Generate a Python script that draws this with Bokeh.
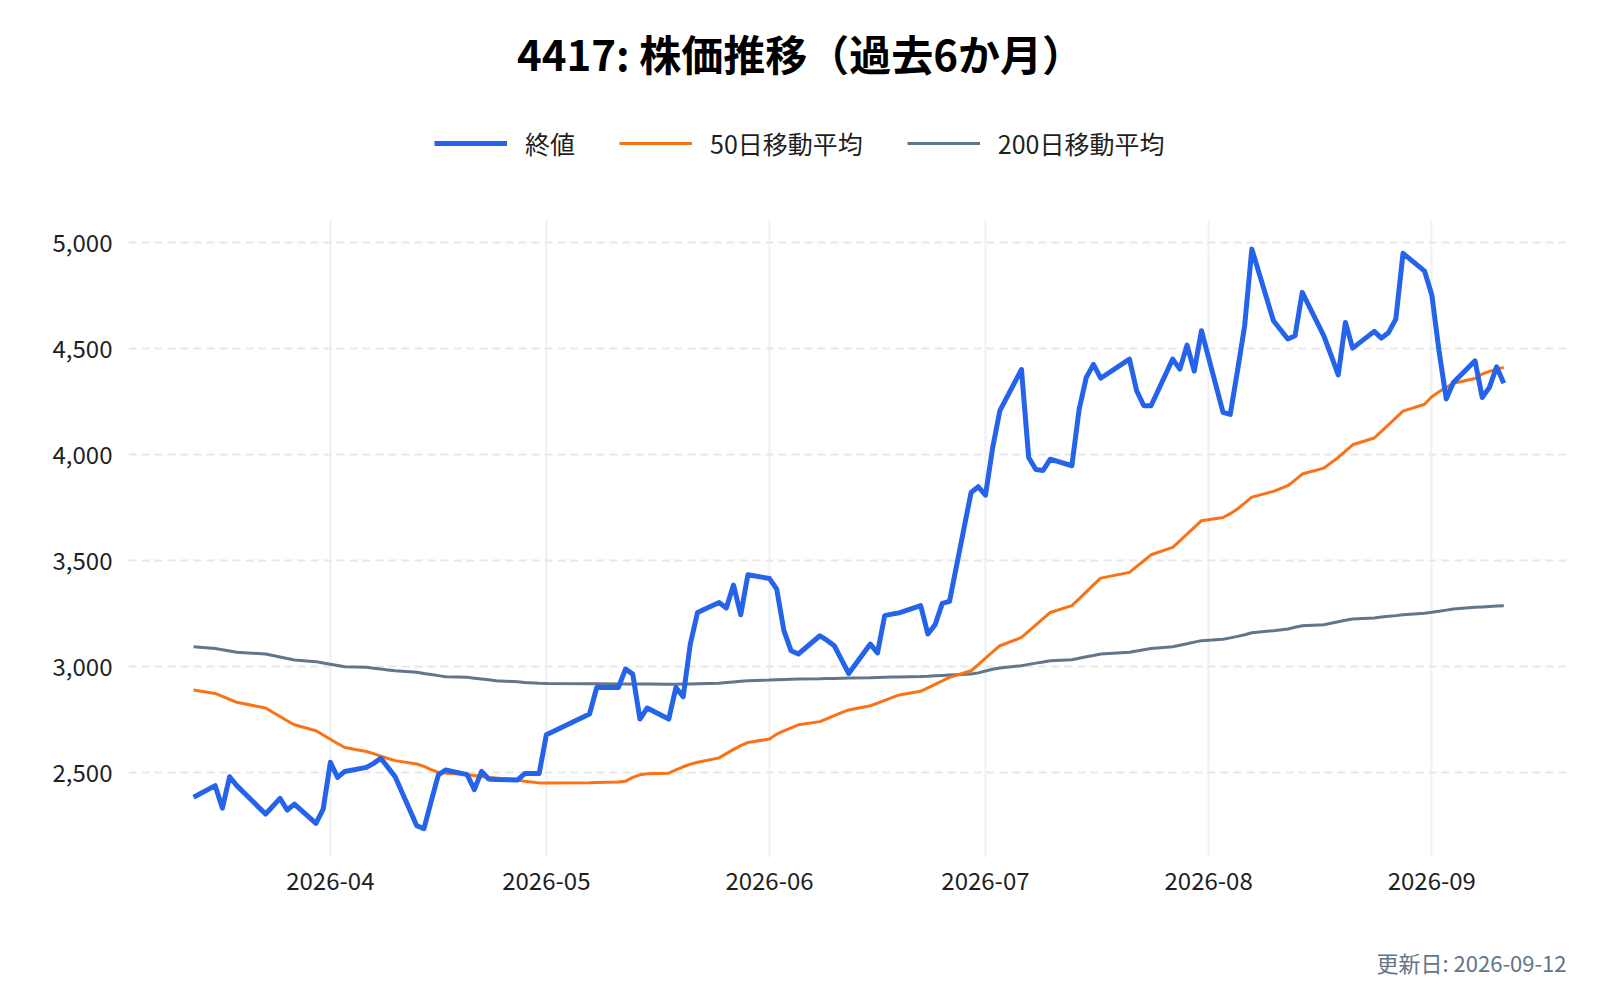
from datetime import datetime
import pandas as pd
from bokeh.plotting import figure
from bokeh.layouts import column
from bokeh.models import (Range1d, FixedTicker, NumeralTickFormatter, DatetimeTickFormatter,
                          MonthsTicker, Legend, LegendItem, Label, ColumnDataSource)
from bokeh.embed import file_html
from bokeh.resources import INLINE

# ---------------- data ----------------
dates = [
    "2026-03-13", "2026-03-16", "2026-03-17", "2026-03-18", "2026-03-19", "2026-03-23", "2026-03-24",
    "2026-03-25", "2026-03-26", "2026-03-27", "2026-03-30", "2026-03-31",
    "2026-04-01", "2026-04-02", "2026-04-03", "2026-04-06", "2026-04-07", "2026-04-08", "2026-04-09",
    "2026-04-10", "2026-04-13", "2026-04-14", "2026-04-15", "2026-04-16", "2026-04-17", "2026-04-20",
    "2026-04-21", "2026-04-22", "2026-04-23", "2026-04-24", "2026-04-27", "2026-04-28", "2026-04-30",
    "2026-05-01", "2026-05-07", "2026-05-08", "2026-05-11", "2026-05-12", "2026-05-13", "2026-05-14",
    "2026-05-15", "2026-05-18", "2026-05-19", "2026-05-20", "2026-05-21", "2026-05-22", "2026-05-25",
    "2026-05-26", "2026-05-27", "2026-05-28", "2026-05-29",
    "2026-06-01", "2026-06-02", "2026-06-03", "2026-06-04", "2026-06-05", "2026-06-08", "2026-06-09",
    "2026-06-10", "2026-06-11", "2026-06-12", "2026-06-15", "2026-06-16", "2026-06-17", "2026-06-18",
    "2026-06-19", "2026-06-22", "2026-06-23", "2026-06-24", "2026-06-25", "2026-06-26", "2026-06-29",
    "2026-06-30",
    "2026-07-01", "2026-07-02", "2026-07-03", "2026-07-06", "2026-07-07", "2026-07-08", "2026-07-09",
    "2026-07-10", "2026-07-13", "2026-07-14", "2026-07-15", "2026-07-16", "2026-07-17", "2026-07-21",
    "2026-07-22", "2026-07-23", "2026-07-24", "2026-07-27", "2026-07-28", "2026-07-29", "2026-07-30",
    "2026-07-31",
    "2026-08-03", "2026-08-04", "2026-08-05", "2026-08-06", "2026-08-07", "2026-08-10", "2026-08-12",
    "2026-08-13", "2026-08-14", "2026-08-17", "2026-08-18", "2026-08-19", "2026-08-20", "2026-08-21",
    "2026-08-24", "2026-08-25", "2026-08-26", "2026-08-27", "2026-08-28", "2026-08-31",
    "2026-09-01", "2026-09-02", "2026-09-03", "2026-09-04", "2026-09-07", "2026-09-08", "2026-09-09",
    "2026-09-10", "2026-09-11",
]

close = [
    2384, 2439, 2333, 2481, 2439, 2305, 2342, 2379, 2324, 2352, 2261, 2328,
    2549, 2478, 2506, 2525, 2544, 2568, 2525, 2481, 2250, 2236, 2365, 2490, 2513, 2491,
    2420, 2506, 2470, 2468, 2466, 2496, 2496,
    2679, 2777, 2902, 2902, 2989, 2965, 2753, 2805, 2753, 2902, 2858, 3107, 3256, 3303,
    3277, 3385, 3245, 3434,
    3416, 3366, 3170, 3075, 3060, 3146, 3124, 3099, 3033, 2968, 3107, 3065, 3241, 3248,
    3254, 3288, 3154, 3198, 3299, 3308, 3822, 3849,
    3809, 4034, 4208, 4402, 3987, 3930, 3926, 3979, 3948, 4212, 4365, 4426, 4361, 4451,
    4302, 4231, 4231, 4451, 4404, 4517, 4395, 4585,
    4200, 4190, 4395, 4608, 4970, 4632, 4546, 4561, 4766, 4561, 4470, 4377, 4624, 4503,
    4582, 4550, 4577, 4640, 4950, 4866,
    4754, 4490, 4263, 4341, 4443, 4270, 4318, 4415, 4337,
]

ma50 = [
    2890, 2874, 2860, 2846, 2832, 2805, 2785, 2765, 2745, 2726, 2698, 2678,
    2658, 2638, 2619, 2600, 2590, 2578, 2567, 2557, 2541, 2530, 2515, 2502, 2498, 2491,
    2487, 2482, 2478, 2475, 2466, 2460, 2452,
    2451, 2453, 2454, 2456, 2460, 2478, 2490, 2495, 2498, 2513, 2528, 2540, 2549, 2570,
    2590, 2610, 2628, 2643,
    2659, 2682, 2697, 2712, 2726, 2741, 2755, 2769, 2783, 2796, 2816, 2828, 2841, 2854,
    2867, 2884, 2900, 2917, 2933, 2950, 2981, 3010,
    3041, 3070, 3099, 3138, 3168, 3197, 3227, 3256, 3288, 3320, 3353, 3386, 3418, 3445,
    3473, 3500, 3528, 3563, 3594, 3626, 3657, 3689,
    3704, 3722, 3744, 3772, 3800, 3827, 3854, 3880, 3909, 3937, 3962, 3987, 4017, 4047,
    4079, 4110, 4142, 4174, 4206, 4238,
    4274, 4297, 4318, 4337, 4360, 4381, 4393, 4404, 4412,
]

ma200 = [
    3094, 3086, 3080, 3074, 3068, 3060, 3053, 3046, 3039, 3032, 3024, 3018,
    3012, 3006, 3000, 2997, 2993, 2989, 2985, 2981, 2974, 2968, 2963, 2958, 2953, 2950,
    2946, 2942, 2938, 2934, 2929, 2926, 2922,
    2921, 2920, 2920, 2919, 2919, 2918, 2918, 2918, 2917, 2917, 2918, 2919, 2920, 2922,
    2925, 2928, 2931, 2934,
    2937, 2939, 2940, 2941, 2942, 2943, 2944, 2945, 2946, 2947, 2948, 2949, 2950, 2951,
    2952, 2954, 2955, 2957, 2959, 2961, 2966, 2971,
    2980, 2988, 2994, 3005, 3011, 3017, 3022, 3028, 3033, 3040, 3047, 3053, 3060, 3068,
    3074, 3080, 3086, 3094, 3101, 3108, 3116, 3123,
    3130, 3136, 3143, 3151, 3160, 3170, 3178, 3186, 3193, 3198, 3205, 3212, 3219, 3225,
    3230, 3234, 3238, 3241, 3245, 3252,
    3257, 3262, 3267, 3272, 3280, 3282, 3284, 3286, 3288,
]

title_text = "4417: 株価推移（過去6か月）"
series_names = ["終値", "50日移動平均", "200日移動平均"]
series_colors = ["#2563eb", "#f97316", "#64748b"]
series_widths = [5, 3, 3]
y_ticks = [2500, 3000, 3500, 4000, 4500, 5000]
updated_text = "更新日: 2026-09-12"

FONT = "Noto Sans CJK JP"
W = 1600
HEAD_H = 220
ML, MR = 128, 34            # left / right borders shared by all three stacked figures
FRAME_H = 637               # plot area height
MB = 55                     # room for the date tick labels
MAIN_H = FRAME_H + MB
FOOT_H = 1000 - HEAD_H - MAIN_H
FRAME_W = W - ML - MR


def blank(height):
    f = figure(width=W, height=height, output_backend="svg", toolbar_location=None,
               x_range=Range1d(0, 1), y_range=Range1d(0, 1),
               x_axis_location=None, y_axis_location=None,
               min_border_left=ML, min_border_right=MR, min_border_top=0, min_border_bottom=0)
    f.outline_line_color = None
    f.grid.visible = False
    f.background_fill_color = "white"
    f.border_fill_color = "white"
    return f


# ---------------- header (title + legend) ----------------
head = blank(HEAD_H)

# legend keys: one-point lines (draw nothing themselves; they only carry the styles)
key_renderers = [head.line(x=[-1], y=[-1], line_color=c, line_width=w)
                 for c, w in zip(series_colors, series_widths)]

head.add_layout(Label(x=W / 2 - ML, y=HEAD_H - 52, x_units="screen", y_units="screen",
                      text=title_text, text_font=FONT, text_font_size="42px",
                      text_font_style="bold", text_color="#000000",
                      text_align="center", text_baseline="middle"))

legend = Legend(items=[LegendItem(label=n, renderers=[r]) for n, r in zip(series_names, key_renderers)],
                orientation="horizontal", location=(434 - ML, HEAD_H - 144 - 17),
                label_text_font=FONT, label_text_font_size="25px", label_text_color="#1f1f1f",
                glyph_width=73, glyph_height=30, label_standoff=18, spacing=44,
                padding=0, margin=0, border_line_alpha=0, background_fill_alpha=0)
head.add_layout(legend)

# ---------------- main chart ----------------
src = ColumnDataSource(dict(date=pd.to_datetime(dates), close=close, ma50=ma50, ma200=ma200))

p = figure(width=W, height=MAIN_H, x_axis_type="datetime", output_backend="svg", toolbar_location=None,
           x_range=Range1d(datetime(2026, 3, 3, 23), datetime(2026, 9, 19, 17)),
           y_range=Range1d(2100, 5105),
           min_border_left=ML, min_border_right=MR, min_border_top=0, min_border_bottom=MB)
p.outline_line_color = None
p.background_fill_color = "white"
p.border_fill_color = "white"

r_close = p.line("date", "close", source=src, line_color=series_colors[0],
                 line_width=series_widths[0], line_join="round")
r_50 = p.line("date", "ma50", source=src, line_color=series_colors[1], line_width=series_widths[1])
r_200 = p.line("date", "ma200", source=src, line_color=series_colors[2], line_width=series_widths[2])
p.renderers = [r_200, r_50, r_close]

p.xaxis.ticker = MonthsTicker(months=list(range(12)))
p.xaxis.formatter = DatetimeTickFormatter(months="%Y-%m", days="%Y-%m")
p.yaxis.ticker = FixedTicker(ticks=y_ticks)
p.yaxis.formatter = NumeralTickFormatter(format="0,0")
for ax in (p.xaxis, p.yaxis):
    ax.axis_line_color = None
    ax.major_tick_line_color = None
    ax.minor_tick_line_color = None
    ax.major_label_text_font = FONT
    ax.major_label_text_font_size = "24px"
    ax.major_label_text_color = "#1f1f1f"
p.xaxis.major_label_standoff = 8
p.yaxis.major_label_standoff = 10

p.xgrid.grid_line_color = "#eef0f4"
p.xgrid.grid_line_width = 2
p.ygrid.grid_line_color = "#e5e7eb"
p.ygrid.grid_line_width = 2
p.ygrid.grid_line_dash = "8 5"

# ---------------- footer (update date) ----------------
foot = blank(FOOT_H)
foot_center_from_top = 961 - (HEAD_H + MAIN_H)
foot.add_layout(Label(x=FRAME_W, y=FOOT_H - foot_center_from_top, x_units="screen", y_units="screen",
                      text=updated_text, text_font=FONT, text_font_size="22px",
                      text_color="#64748b", text_align="right", text_baseline="middle"))

layout = column(head, p, foot, spacing=0)
open("out.html", "w").write(file_html(layout, INLINE))
